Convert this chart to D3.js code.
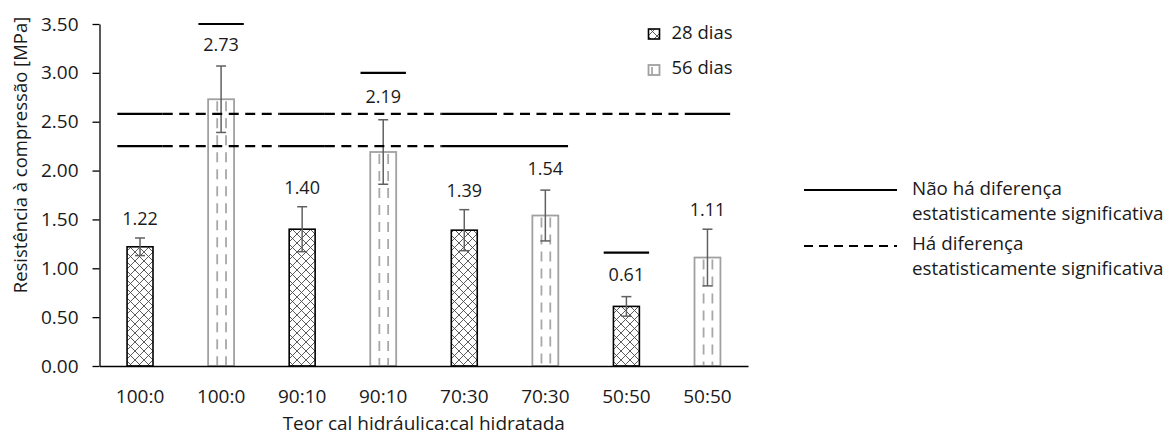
<!DOCTYPE html>
<html>
<head>
<meta charset="utf-8">
<script src="https://cdn.jsdelivr.net/npm/d3@7"></script>
<style>
  html, body { margin: 0; padding: 0; background: #fff; }
  svg { display: block; font-family: "Open Sans", sans-serif; }
</style>
</head>
<body>
<svg id="chart" width="1171" height="437"></svg>
<script>
// ---------- data ----------
const mixes = ["100:0", "90:10", "70:30", "50:50"];
const ages = ["28 dias", "56 dias"];
const mean28 = [1.22, 1.40, 1.39, 0.61];
const mean56 = [2.73, 2.19, 1.54, 1.11];
const sd28 = [0.09, 0.23, 0.21, 0.10];
const sd56 = [0.34, 0.33, 0.26, 0.29];
const yTicks = [0, 0.5, 1.0, 1.5, 2.0, 2.5, 3.0, 3.5];
const xTitle = "Teor cal hidráulica:cal hidratada";
const yTitle = "Resistência à compressão [MPa]";
// significance lines: level (MPa) and solid groups of bar indices; gaps between groups are dashed
const sigLevels = [2.58, 2.25, 3.5, 3.0, 1.16];
const sigSolid = [
  [[0, 0], [2, 2], [4, 4], [7, 7]],
  [[0, 0], [2, 2], [4, 5]],
  [[1, 1]],
  [[3, 3]],
  [[6, 6]]
];
const sigLegend = [
  ["Não há diferença", "estatisticamente significativa"],
  ["Há diferença", "estatisticamente significativa"]
];

const bars = mixes.flatMap((m, i) => [
  { cat: m, age: 0, v: mean28[i], e: sd28[i] },
  { cat: m, age: 1, v: mean56[i], e: sd56[i] }
]);

// ---------- setup ----------
const svg = d3.select("#chart");
const defs = svg.append("defs");
const hatch = defs.append("pattern").attr("id", "hatch")
  .attr("patternUnits", "userSpaceOnUse").attr("width", 9).attr("height", 9);
hatch.append("rect").attr("width", 9).attr("height", 9).attr("fill", "#fff");
hatch.append("path").attr("d", "M-1,-1L10,10M10,-1L-1,10")
  .attr("stroke", "#4a4a4a").attr("stroke-width", 0.9);

const x = d3.scaleBand().domain(d3.range(bars.length))
  .range([99.5, 748]).paddingInner(0.68).paddingOuter(0.34);
const y = d3.scaleLinear().domain([0, 3.5]).range([366, 24]);
const step = x.step();
const bw = x.bandwidth();
const cx = i => x(i) + bw / 2;

// ---------- bars ----------
const g = svg.append("g");
bars.forEach((b, i) => {
  const x0 = x(i), y0 = y(b.v), h = y(0) - y(b.v);
  if (b.age === 0) {
    g.append("rect").attr("x", x0).attr("y", y0).attr("width", bw).attr("height", h)
      .attr("fill", "url(#hatch)").attr("stroke", "#000").attr("stroke-width", 1.6);
  } else {
    g.append("rect").attr("x", x0).attr("y", y0).attr("width", bw).attr("height", h)
      .attr("fill", "#fff").attr("stroke", "#a0a0a0").attr("stroke-width", 1.8);
    [0.35, 0.69].forEach(f => {
      g.append("line").attr("x1", x0 + bw * f).attr("x2", x0 + bw * f)
        .attr("y1", y0 + 2).attr("y2", y(0) - 1)
        .attr("stroke", "#a8a8a8").attr("stroke-width", 1.8)
        .attr("stroke-dasharray", "10,7");
    });
  }
});

// ---------- error bars ----------
bars.forEach((b, i) => {
  const c = cx(i);
  const e = g.append("g").attr("stroke", "#606060").attr("stroke-width", 1.5);
  e.append("line").attr("x1", c).attr("x2", c).attr("y1", y(b.v + b.e)).attr("y2", y(b.v - b.e));
  e.append("line").attr("x1", c - 5).attr("x2", c + 5).attr("y1", y(b.v + b.e)).attr("y2", y(b.v + b.e));
  e.append("line").attr("x1", c - 5).attr("x2", c + 5).attr("y1", y(b.v - b.e)).attr("y2", y(b.v - b.e));
});

// ---------- significance lines ----------
const hw = step * 0.28;
const sg = svg.append("g").attr("stroke", "#000").attr("stroke-width", 2.2);
sigLevels.forEach((lv, k) => {
  const yy = y(lv);
  const groups = sigSolid[k];
  groups.forEach((gr, j) => {
    const xs = cx(gr[0]) - hw, xe = cx(gr[1]) + hw;
    sg.append("line").attr("x1", xs).attr("x2", xe).attr("y1", yy).attr("y2", yy);
    if (j < groups.length - 1) {
      const nx = cx(groups[j + 1][0]) - hw;
      sg.append("line").attr("x1", xe).attr("x2", nx).attr("y1", yy).attr("y2", yy)
        .attr("stroke-dasharray", "10,6.5");
    }
  });
});

// ---------- axes ----------
const yAxis = svg.append("g").attr("transform", "translate(99.5,0)")
  .call(d3.axisLeft(y).tickValues(yTicks).tickFormat(d3.format(".2f"))
    .tickSize(7).tickSizeOuter(0).tickPadding(14));
yAxis.select(".domain").attr("stroke", "#000").attr("stroke-width", 1.3);
yAxis.selectAll(".tick line").attr("stroke", "#000").attr("stroke-width", 1.3);
yAxis.selectAll("text").attr("font-size", 19).attr("fill", "#1a1a1a")
  .attr("font-family", "Open Sans");

const xAxis = svg.append("g").attr("transform", "translate(0,366)")
  .call(d3.axisBottom(x).tickFormat(i => bars[i].cat).tickSize(0).tickSizeOuter(0).tickPadding(23.5));
xAxis.select(".domain").attr("stroke", "#000").attr("stroke-width", 1.5);
xAxis.selectAll("text").attr("font-size", 19).attr("fill", "#1a1a1a")
  .attr("font-family", "Open Sans");

// ---------- data labels ----------
bars.forEach((b, i) => {
  const top = y(b.v + b.e);
  let base = top - 13;
  // if a solid significance line sits just above, centre label between them
  sigLevels.forEach((lv, k) => {
    const ly = y(lv);
    const covers = sigSolid[k].some(gr => i >= gr[0] && i <= gr[1]);
    if (covers && ly < top && top - ly < 50) base = (ly + top) / 2 + 6.4;
  });
  svg.append("text").attr("x", cx(i)).attr("y", base)
    .attr("text-anchor", "middle").attr("font-size", 18).attr("fill", "#1a1a1a")
    .text(b.v.toFixed(2));
});

// ---------- titles ----------
svg.append("text").attr("x", (99.5 + 748) / 2).attr("y", 430)
  .attr("text-anchor", "middle").attr("font-size", 19).attr("fill", "#1a1a1a").text(xTitle);
svg.append("text").attr("transform", "translate(27,155) rotate(-90)")
  .attr("text-anchor", "middle").attr("font-size", 18.5).attr("fill", "#1a1a1a").text(yTitle);

// ---------- legend (series) ----------
const lg = svg.append("g");
[[29, 39], [65, 74]].forEach((p, k) => {
  if (k === 0) {
    lg.append("rect").attr("x", 648.5).attr("y", p[0]).attr("width", 11).attr("height", 10)
      .attr("fill", "url(#hatch)").attr("stroke", "#000").attr("stroke-width", 1.6);
  } else {
    lg.append("rect").attr("x", 648.5).attr("y", p[0]).attr("width", 11).attr("height", 10)
      .attr("fill", "#fff").attr("stroke", "#a0a0a0").attr("stroke-width", 1.8);
    lg.append("line").attr("x1", 652).attr("x2", 652).attr("y1", p[0] + 2).attr("y2", p[0] + 9)
      .attr("stroke", "#a8a8a8").attr("stroke-width", 1.8);
  }
  lg.append("text").attr("x", 671.5).attr("y", p[1]).attr("font-size", 18.5)
    .attr("fill", "#1a1a1a").text(ages[k]);
});

// ---------- legend (significance) ----------
const rg = svg.append("g");
[{ ly: 190, t: [195, 220] }, { ly: 246, t: [249.5, 275] }].forEach((o, k) => {
  const ln = rg.append("line").attr("x1", 804).attr("x2", 897).attr("y1", o.ly).attr("y2", o.ly)
    .attr("stroke", "#000").attr("stroke-width", 2.2);
  if (k === 1) ln.attr("stroke-dasharray", "9,6");
  sigLegend[k].forEach((s, j) => {
    rg.append("text").attr("x", 912).attr("y", o.t[j]).attr("font-size", 18.8)
      .attr("fill", "#1a1a1a").text(s);
  });
});
</script>
</body>
</html>
